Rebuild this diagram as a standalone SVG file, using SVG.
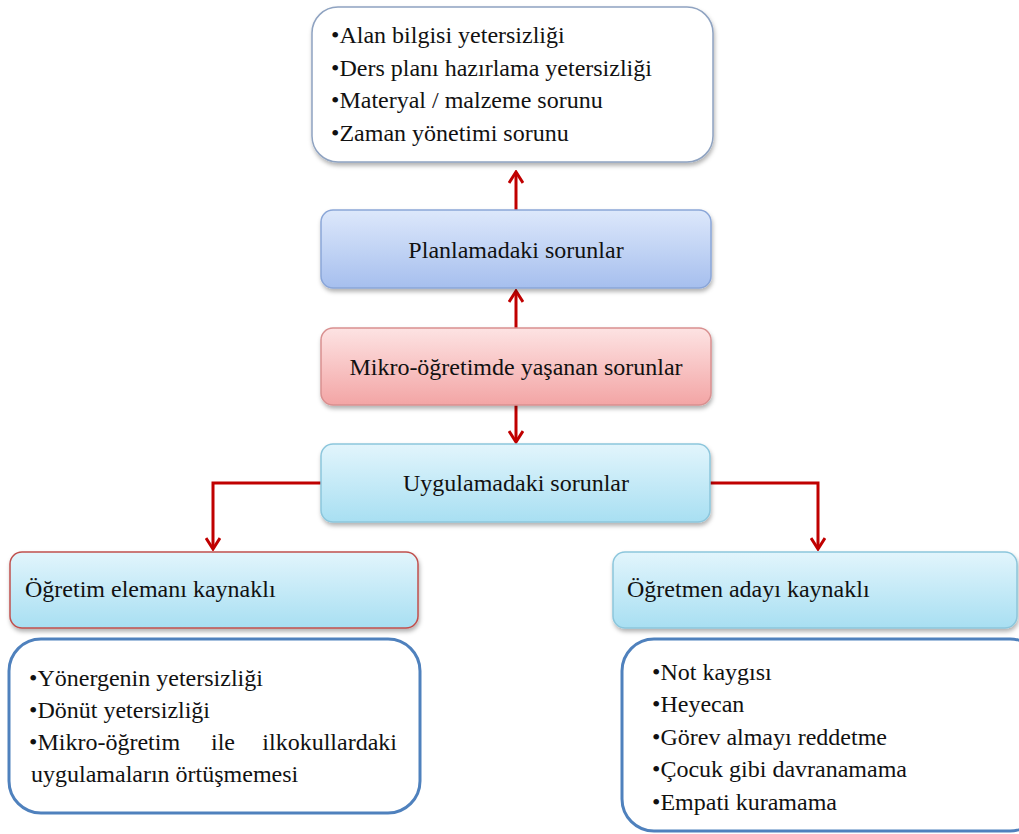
<svg xmlns="http://www.w3.org/2000/svg" width="1019" height="834" viewBox="0 0 1019 834">
<style>
  text { font-family: 'Liberation Serif', 'DejaVu Serif', 'Noto Serif', serif; font-size: 24px; fill: #111; }
  .c { text-anchor: middle; }
  .e { text-anchor: end; }
  .conn { fill: none; stroke: #c00000; stroke-width: 3; marker-end: url(#arr); }
</style>
<defs>
  <filter id="sh" x="-5%" y="-10%" width="110%" height="130%">
    <feDropShadow dx="1" dy="3" stdDeviation="2" flood-color="#000" flood-opacity="0.3"/>
  </filter>
  <linearGradient id="gBlue" x1="0" y1="0" x2="0" y2="1">
    <stop offset="0" stop-color="#dde8fb"/>
    <stop offset="1" stop-color="#a6bfee"/>
  </linearGradient>
  <linearGradient id="gRed" x1="0" y1="0" x2="0" y2="1">
    <stop offset="0" stop-color="#fde3e3"/>
    <stop offset="1" stop-color="#f3a5a5"/>
  </linearGradient>
  <linearGradient id="gCyan" x1="0" y1="0" x2="0" y2="1">
    <stop offset="0" stop-color="#e2f5fc"/>
    <stop offset="1" stop-color="#a8dff2"/>
  </linearGradient>
  <marker id="arr" viewBox="0 0 14 16" refX="12" refY="8" markerWidth="14" markerHeight="16" markerUnits="userSpaceOnUse" orient="auto">
    <path d="M1,1 L12,8 L1,15" fill="none" stroke="#c00000" stroke-width="3"/>
  </marker>
</defs>

<g id="connectors">
  <path class="conn" d="M516,210 L516,172"/>
  <path class="conn" d="M516,328 L516,291"/>
  <path class="conn" d="M516,405 L516,442"/>
  <path class="conn" d="M321,483 L213,483 L213,549"/>
  <path class="conn" d="M710,483 L818,483 L818,549"/>
</g>

<g id="node-top">
  <rect x="312" y="7" width="401" height="155" rx="26" fill="#fff" stroke="#8fa3c1" stroke-width="1.5" filter="url(#sh)"/>
  <text x="331" y="43">•Alan bilgisi yetersizliği</text>
  <text x="331" y="76">•Ders planı hazırlama yetersizliği</text>
  <text x="331" y="108">•Materyal / malzeme sorunu</text>
  <text x="331" y="141">•Zaman yönetimi sorunu</text>
</g>

<g id="node-plan">
  <rect x="321" y="210" width="390" height="78" rx="12" fill="url(#gBlue)" stroke="#8aa6d8" stroke-width="1.5" filter="url(#sh)"/>
  <text class="c" x="516" y="258">Planlamadaki sorunlar</text>
</g>

<g id="node-mikro">
  <rect x="321" y="328" width="390" height="77" rx="12" fill="url(#gRed)" stroke="#d99090" stroke-width="1.5" filter="url(#sh)"/>
  <text class="c" x="516" y="375">Mikro-öğretimde yaşanan sorunlar</text>
</g>

<g id="node-uyg">
  <rect x="321" y="444" width="389" height="78" rx="12" fill="url(#gCyan)" stroke="#8cc6dc" stroke-width="1.5" filter="url(#sh)"/>
  <text class="c" x="516" y="491">Uygulamadaki sorunlar</text>
</g>

<g id="node-left">
  <rect x="10" y="552" width="408" height="76" rx="12" fill="url(#gCyan)" stroke="#c0504d" stroke-width="1.5" filter="url(#sh)"/>
  <text x="25" y="597">Öğretim elemanı kaynaklı</text>
</g>

<g id="node-right">
  <rect x="613" y="552" width="404" height="76" rx="12" fill="url(#gCyan)" stroke="#8cc6dc" stroke-width="1.5" filter="url(#sh)"/>
  <text x="627" y="597">Öğretmen adayı kaynaklı</text>
</g>

<g id="node-left-list">
  <rect x="9" y="639" width="411" height="174" rx="32" fill="#fff" stroke="#4f81bd" stroke-width="3"/>
  <text x="29" y="686">•Yönergenin yetersizliği</text>
  <text x="29" y="718">•Dönüt yetersizliği</text>
  <text x="29" y="750">•Mikro-öğretim</text>
  <text x="211" y="750">ile</text>
  <text class="e" x="397" y="750">ilkokullardaki</text>
  <text x="31" y="782">uygulamaların örtüşmemesi</text>
</g>

<g id="node-right-list">
  <rect x="622" y="639" width="420" height="192" rx="32" fill="#fff" stroke="#4f81bd" stroke-width="3"/>
  <text x="652" y="680">•Not kaygısı</text>
  <text x="652" y="712">•Heyecan</text>
  <text x="652" y="745">•Görev almayı reddetme</text>
  <text x="652" y="777">•Çocuk gibi davranamama</text>
  <text x="652" y="810">•Empati kuramama</text>
</g>
</svg>
